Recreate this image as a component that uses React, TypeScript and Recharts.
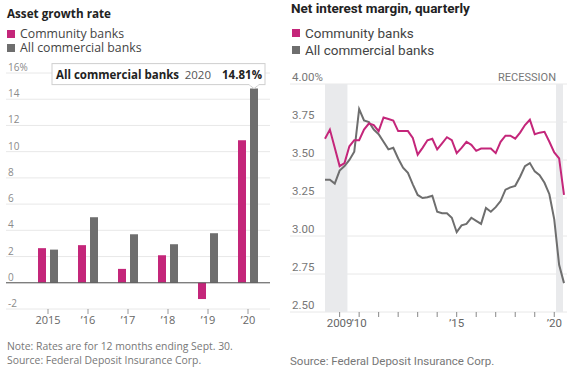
import {
  Bar,
  BarChart,
  CartesianGrid,
  LabelList,
  Line,
  LineChart,
  ReferenceArea,
  ReferenceLine,
  XAxis,
  YAxis,
} from "recharts";

const MAGENTA = "#C4267A";
const GRAY = "#6E6E6E";
const WIDE_FONT = "'Open Sans', 'DejaVu Sans', sans-serif";
const NARROW_FONT = "Roboto, sans-serif";

// Asset growth rate, 12 months ending Sept. 30
const growthYears = ["2015", "’16", "’17", "’18", "’19", "’20"];
const communityGrowth = [2.64, 2.87, 1.06, 2.1, -1.24, 10.87];
const allGrowth = [2.53, 5.0, 3.7, 2.94, 3.78, 14.81];
const growthTicks = [-2, 0, 2, 4, 6, 8, 10, 12, 14, 16];

// Net interest margin, quarterly
const quarters = [
  "2008Q2", "2008Q3", "2008Q4",
  "2009Q1", "2009Q2", "2009Q3", "2009Q4",
  "2010Q1", "2010Q2", "2010Q3", "2010Q4",
  "2011Q1", "2011Q2", "2011Q3", "2011Q4",
  "2012Q1", "2012Q2", "2012Q3", "2012Q4",
  "2013Q1", "2013Q2", "2013Q3", "2013Q4",
  "2014Q1", "2014Q2", "2014Q3", "2014Q4",
  "2015Q1", "2015Q2", "2015Q3", "2015Q4",
  "2016Q1", "2016Q2", "2016Q3", "2016Q4",
  "2017Q1", "2017Q2", "2017Q3", "2017Q4",
  "2018Q1", "2018Q2", "2018Q3", "2018Q4",
  "2019Q1", "2019Q2", "2019Q3", "2019Q4",
  "2020Q1", "2020Q2", "2020Q3",
];
const communityNim = [
  3.64, 3.7, 3.58, 3.46, 3.48, 3.59, 3.63, 3.63, 3.7, 3.74,
  3.73, 3.69, 3.78, 3.77, 3.76, 3.69, 3.69, 3.69, 3.645, 3.535,
  3.58, 3.63, 3.64, 3.57, 3.61, 3.65, 3.63, 3.545, 3.58, 3.62,
  3.6, 3.56, 3.575, 3.575, 3.575, 3.545, 3.62, 3.66, 3.66, 3.64,
  3.68, 3.73, 3.765, 3.67, 3.68, 3.685, 3.62, 3.55, 3.51, 3.27,
];
const allNim = [
  3.37, 3.37, 3.345, 3.43, 3.46, 3.5, 3.555, 3.835, 3.76, 3.75,
  3.7, 3.67, 3.62, 3.57, 3.58, 3.51, 3.45, 3.415, 3.34, 3.27,
  3.25, 3.255, 3.265, 3.16, 3.15, 3.15, 3.12, 3.025, 3.07, 3.08,
  3.12, 3.1, 3.08, 3.185, 3.16, 3.19, 3.23, 3.305, 3.32, 3.33,
  3.39, 3.46, 3.48, 3.425, 3.4, 3.35, 3.275, 3.11, 2.81, 2.69,
];
const nimTicks = [2.5, 2.75, 3, 3.25, 3.5, 3.75, 4];
const yearTicks = [2009, 2010, 2011, 2012, 2013, 2014, 2015, 2016, 2017, 2018, 2019, 2020];
const yearLabels: Record<number, string> = { 2009: "2009", 2010: "’10", 2015: "’15", 2020: "’20" };
const recessions = [
  [2008.25, 2009.4],
  [2020.09, 2020.45],
];

const growthData = growthYears.map((year, i) => ({
  year,
  community: communityGrowth[i],
  all: allGrowth[i],
}));

const nimData = quarters.map((q, i) => ({
  t: Number(q.slice(0, 4)) + (Number(q.slice(5)) - 1) / 4,
  community: communityNim[i],
  all: allNim[i],
}));

function GrowthTick(props: any) {
  const v = props.payload.value;
  return (
    <text x={8} y={props.y - 2} fontSize={10} fill="#8a8a8a" fontFamily={WIDE_FONT}>
      {v === 16 ? "16%" : String(v)}
    </text>
  );
}

function NimTick(props: any) {
  const v = props.payload.value as number;
  return (
    <text x={7} y={props.y - 3} fontSize={11.5} fill="#777" fontFamily={NARROW_FONT}>
      {v === 4 ? "4.00%" : v.toFixed(2)}
    </text>
  );
}

function Callout(props: any) {
  const { x, y, width, index } = props;
  if (index !== growthYears.length - 1) return null;
  const cx = x + width / 2;
  const right = cx + 11;
  const bottom = y - 4;
  const h = 21;
  const w = 213;
  const base = bottom - 6;
  return (
    <g fontFamily={WIDE_FONT} fontSize={11.5}>
      <rect x={right - w} y={bottom - h} width={w} height={h} fill="#fff" stroke="#cfcfcf" />
      <path d={`M${cx - 5},${bottom} L${cx},${bottom + 4} L${cx + 5},${bottom}`} fill="#fff" stroke="#cfcfcf" />
      <line x1={cx - 4.5} x2={cx + 4.5} y1={bottom} y2={bottom} stroke="#fff" strokeWidth={1.5} />
      <text x={right - w + 4} y={base} fill="#222" fontWeight={700}>
        All commercial banks
      </text>
      <text x={right - 54} y={base} fill="#555" textAnchor="end">
        2020
      </text>
      <text x={right - 3} y={base} fill="#222" fontWeight={700} textAnchor="end">
        14.81%
      </text>
    </g>
  );
}

function LegendItem({ color, label, top, left, size, font }: any) {
  return (
    <div style={{ position: "absolute", top, left, display: "flex", alignItems: "center", fontFamily: font, fontSize: size, lineHeight: `${size + 1}px`, color: "#444", whiteSpace: "nowrap" }}>
      <span style={{ display: "inline-block", width: 8, height: 8, background: color, marginRight: 5 }} />
      {label}
    </div>
  );
}

export default function App() {
  return (
    <div style={{ position: "absolute", left: 0, top: 0, width: 572, height: 371, background: "#fff", overflow: "hidden" }}>
      {/* left: asset growth */}
      <div style={{ position: "absolute", left: 7, top: 5, fontFamily: WIDE_FONT, fontWeight: 700, fontSize: 11.7, color: "#222" }}>
        Asset growth rate
      </div>
      <LegendItem color={MAGENTA} label="Community banks" top={27} left={7} size={12.3} font={WIDE_FONT} />
      <LegendItem color={GRAY} label="All commercial banks" top={41} left={7} size={12.3} font={WIDE_FONT} />
      <div style={{ position: "absolute", left: 0, top: 0 }}>
        <BarChart
          width={280}
          height={371}
          data={growthData}
          margin={{ top: 73, right: 10, bottom: 32, left: 5 }}
          barGap={4}
        >
          <CartesianGrid vertical={false} stroke="#e8e8e8" />
          <XAxis
            dataKey="year"
            height={30}
            padding={{ left: 22, right: 2 }}
            axisLine={false}
            tickLine={{ stroke: "#999" }}
            tickSize={5}
            tick={{ fontSize: 11, fill: "#666", fontFamily: WIDE_FONT }}
            interval={0}
          />
          <YAxis
            width={1}
            domain={[-2, 16]}
            ticks={growthTicks}
            interval={0}
            axisLine={false}
            tickLine={false}
            tick={<GrowthTick />}
          />
          <ReferenceLine y={0} stroke="#555" />
          <Bar dataKey="community" fill={MAGENTA} barSize={8} isAnimationActive={false} />
          <Bar dataKey="all" fill={GRAY} barSize={8} isAnimationActive={false}>
            <LabelList dataKey="all" content={<Callout />} />
          </Bar>
        </BarChart>
      </div>
      <div style={{ position: "absolute", left: 7, top: 340, fontFamily: WIDE_FONT, fontSize: 10.4, lineHeight: "13.5px", color: "#777" }}>
        Note: Rates are for 12 months ending Sept. 30.
        <br />
        Source: Federal Deposit Insurance Corp.
      </div>

      {/* right: net interest margin */}
      <div style={{ position: "absolute", left: 291, top: 0, fontFamily: "Roboto, sans-serif", fontWeight: 700, fontSize: 13.5, color: "#222" }}>
        Net interest margin, quarterly
      </div>
      <LegendItem color={MAGENTA} label="Community banks" top={26} left={292} size={13.5} font="Roboto, sans-serif" />
      <LegendItem color={GRAY} label="All commercial banks" top={43} left={292} size={13.5} font="Roboto, sans-serif" />
      <div style={{ position: "absolute", left: 285, top: 0 }}>
        <LineChart width={287} height={371} data={nimData} margin={{ top: 84, right: 5, bottom: 29, left: 4 }}>
          <CartesianGrid vertical={false} stroke="#e8e8e8" />
          {recessions.map(([a, b], i) => (
            <ReferenceArea
              key={i}
              x1={a}
              x2={b}
              fill="#e9eaec"
              fillOpacity={1}
              stroke="none"
              label={
                i === recessions.length - 1
                  ? (p: any) => (
                      <text
                        x={p.viewBox.x + p.viewBox.width - 7}
                        y={p.viewBox.y - 3}
                        textAnchor="end"
                        fontSize={11}
                        fill="#777"
                        fontFamily={NARROW_FONT}
                      >
                        RECESSION
                      </text>
                    )
                  : undefined
              }
            />
          ))}
          <XAxis
            dataKey="t"
            type="number"
            domain={[2008.25, 2020.5]}
            ticks={yearTicks}
            padding={{ left: 35, right: 3 }}
            height={30}
            axisLine={false}
            tickLine={{ stroke: "#888" }}
            tickSize={5}
            interval={0}
            tickFormatter={(v: number) => yearLabels[v] ?? ""}
            tick={{ fontSize: 11.5, fill: "#666", fontFamily: NARROW_FONT }}
          />
          <YAxis
            width={1}
            domain={[2.5, 4]}
            ticks={nimTicks}
            interval={0}
            axisLine={false}
            tickLine={false}
            tick={<NimTick />}
          />
          <Line dataKey="all" stroke={GRAY} strokeWidth={2} dot={false} type="linear" isAnimationActive={false} />
          <Line dataKey="community" stroke={MAGENTA} strokeWidth={2} dot={false} type="linear" isAnimationActive={false} />
        </LineChart>
      </div>
      <div style={{ position: "absolute", left: 290, top: 354, fontFamily: NARROW_FONT, fontSize: 11.5, color: "#777" }}>
        Source: Federal Deposit Insurance Corp.
      </div>
    </div>
  );
}
